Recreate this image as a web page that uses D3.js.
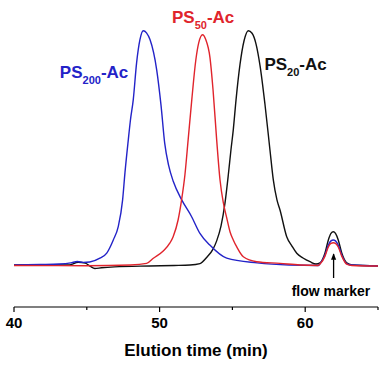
<!DOCTYPE html>
<html>
<head>
<meta charset="utf-8">
<script src="https://cdn.jsdelivr.net/npm/d3@7"></script>
<style>
  html, body { margin: 0; padding: 0; background: #fff; }
  svg { display: block; font-family: "Liberation Sans", Arial, sans-serif; font-weight: bold; }
</style>
</head>
<body>
<svg id="chart" width="390" height="367"></svg>
<script>
// elution traces: [time (min), signal (a.u.)]
const ps200 = [
  [40, 0], [41.8, 0.2], [43.1, 0.4], [43.9, 0.9], [44.35, 1.5], [44.75, 1.1], [45.2, 1.3],
  [45.9, 2.9], [46.37, 5.1], [46.82, 10.7], [47.16, 16.4], [47.46, 27.8], [47.62, 39.3],
  [47.85, 53.4], [48.0, 62], [48.19, 70.5], [48.42, 86.3], [48.65, 96.2], [48.88, 100],
  [49.1, 99.1], [49.34, 96.2], [49.8, 83.3], [50.1, 68], [50.35, 52], [50.62, 42.5],
  [50.95, 35.5], [51.52, 27.8], [52.2, 20.6], [52.77, 13.5], [53.45, 8.5], [54.61, 2.9],
  [56.7, 0.9], [58.9, 0], [60.9, -0.2],
  [61.02, 0.6], [61.36, 4.3], [61.59, 8.5], [61.77, 10.3], [61.93, 10.7], [62.08, 10.3],
  [62.27, 8.5], [62.51, 4.3], [62.85, 0.6], [63.21, 0], [65, -0.4]
];
const ps50 = [
  [40, -0.2], [45, -0.3], [48, 0], [49.11, 0.7], [49.57, 2.9], [50.25, 6.0], [50.71, 9.4],
  [50.93, 12.1], [51.27, 19.2], [51.51, 27.8], [51.74, 38.5], [51.96, 53.4], [52.21, 70.5],
  [52.49, 87.6], [52.69, 94.9], [52.95, 98.3], [53.17, 96.2], [53.46, 88.5], [53.67, 74.8],
  [53.92, 53.4], [54.15, 36.3], [54.38, 26.5], [54.61, 20.1], [54.84, 14.1], [55.06, 10.7],
  [55.3, 7.7], [55.75, 3.5], [56.67, 1.4], [58.27, 0.7], [59.64, 0], [60.88, -0.2],
  [61.02, 0.4], [61.36, 3.8], [61.59, 7.7], [61.77, 9.2], [61.93, 9.5], [62.08, 9.2],
  [62.27, 7.7], [62.51, 3.8], [62.85, 0.4], [63.21, -0.2], [65, -0.4]
];
const ps20 = [
  [40, 0], [43.8, 0], [44.4, 1.2], [44.9, 0.8], [45.25, -0.6], [45.55, -1.5], [46.0, -1.2],
  [46.9, -0.8], [49.3, -0.4], [51.0, -0.2], [52.09, 0], [52.77, 0.6], [53.23, 3.2],
  [53.67, 6.8], [53.92, 10.3], [54.22, 16.7], [54.49, 26.4], [54.72, 38.5], [54.9, 49.1],
  [55.06, 57.7], [55.25, 70.5], [55.52, 85.5], [55.8, 95.7], [56.09, 100], [56.35, 98.9],
  [56.62, 94.4], [56.9, 85], [57.24, 68.4], [57.58, 49.1], [57.81, 36.3], [58.06, 27.8],
  [58.27, 23.5], [58.73, 12.1], [59.09, 8.1], [59.42, 5.0], [59.85, 3.0], [60.33, 1.4],
  [60.74, 0.4],
  [61.02, 0.9], [61.36, 5.1], [61.59, 10.7], [61.77, 13.5], [61.93, 14.2], [62.08, 13.5],
  [62.27, 10.7], [62.51, 5.1], [62.85, 0.9], [63.21, 0], [65, -0.4]
];

const majorTicks = [40, 50, 60];
const minorTicks = [45, 55, 65];
const flowMarkerTime = 61.95;

const series = [
  { name: "PS", sub: "20", color: "#111111", data: ps20, label: [57.2, 70] },
  { name: "PS", sub: "200", color: "#2323c8", data: ps200, label: [43.15, 78] },
  { name: "PS", sub: "50", color: "#e0242c", data: ps50, label: [50.85, 22.7] }
];

const svg = d3.select("#chart");

const x = d3.scaleLinear().domain([40, 65]).range([14, 378]);
const y = d3.scaleLinear().domain([0, 100]).range([265, 30.7]);

const line = d3.line()
  .x(d => x(d[0]))
  .y(d => y(d[1]))
  .curve(d3.curveMonotoneX);

// traces
svg.selectAll(".trace")
  .data(series)
  .enter().append("path")
  .attr("class", "trace")
  .attr("d", d => line(d.data))
  .attr("fill", "none")
  .attr("stroke", d => d.color)
  .attr("stroke-width", 1.4)
  .attr("stroke-linejoin", "round");

// trace labels
const labels = svg.selectAll(".label")
  .data(series)
  .enter().append("text")
  .attr("class", "label")
  .attr("x", d => x(d.label[0]))
  .attr("y", d => d.label[1])
  .attr("fill", d => d.color)
  .style("font-size", "17px");
labels.append("tspan").text(d => d.name);
labels.append("tspan").attr("dy", 6).style("font-size", "11px").text(d => d.sub);
labels.append("tspan").attr("dy", -6).text("-Ac");

// x axis
const axisY = 307;
const axis = svg.append("g").attr("transform", `translate(0,${axisY})`);
axis.append("line")
  .attr("x1", x(40)).attr("x2", x(65))
  .attr("stroke", "#000").attr("stroke-width", 1.2);
axis.selectAll(".major")
  .data(majorTicks)
  .enter().append("line")
  .attr("x1", d => x(d)).attr("x2", d => x(d))
  .attr("y1", 0).attr("y2", 5)
  .attr("stroke", "#000").attr("stroke-width", 1.2);
axis.selectAll(".minor")
  .data(minorTicks)
  .enter().append("line")
  .attr("x1", d => x(d)).attr("x2", d => x(d))
  .attr("y1", 0).attr("y2", 3)
  .attr("stroke", "#000").attr("stroke-width", 1.2);
axis.selectAll(".tick-label")
  .data(majorTicks)
  .enter().append("text")
  .attr("x", d => x(d))
  .attr("y", 21)
  .attr("text-anchor", "middle")
  .style("font-size", "15px")
  .text(d => d);

svg.append("text")
  .attr("x", 196)
  .attr("y", 356)
  .attr("text-anchor", "middle")
  .style("font-size", "17px")
  .text("Elution time (min)");

// flow marker arrow
svg.append("defs").append("marker")
  .attr("id", "arrow")
  .attr("viewBox", "0 0 10 10")
  .attr("refX", 9).attr("refY", 5)
  .attr("markerWidth", 5).attr("markerHeight", 5)
  .attr("orient", "auto")
  .append("path")
  .attr("d", "M0,1 L10,5 L0,9 Z")
  .attr("fill", "#000");

svg.append("line")
  .attr("x1", x(flowMarkerTime)).attr("x2", x(flowMarkerTime))
  .attr("y1", 278).attr("y2", 254)
  .attr("stroke", "#000").attr("stroke-width", 1.3)
  .attr("marker-end", "url(#arrow)");

svg.append("text")
  .attr("x", 331)
  .attr("y", 296)
  .attr("text-anchor", "middle")
  .style("font-size", "14px")
  .text("flow marker");
</script>
</body>
</html>
